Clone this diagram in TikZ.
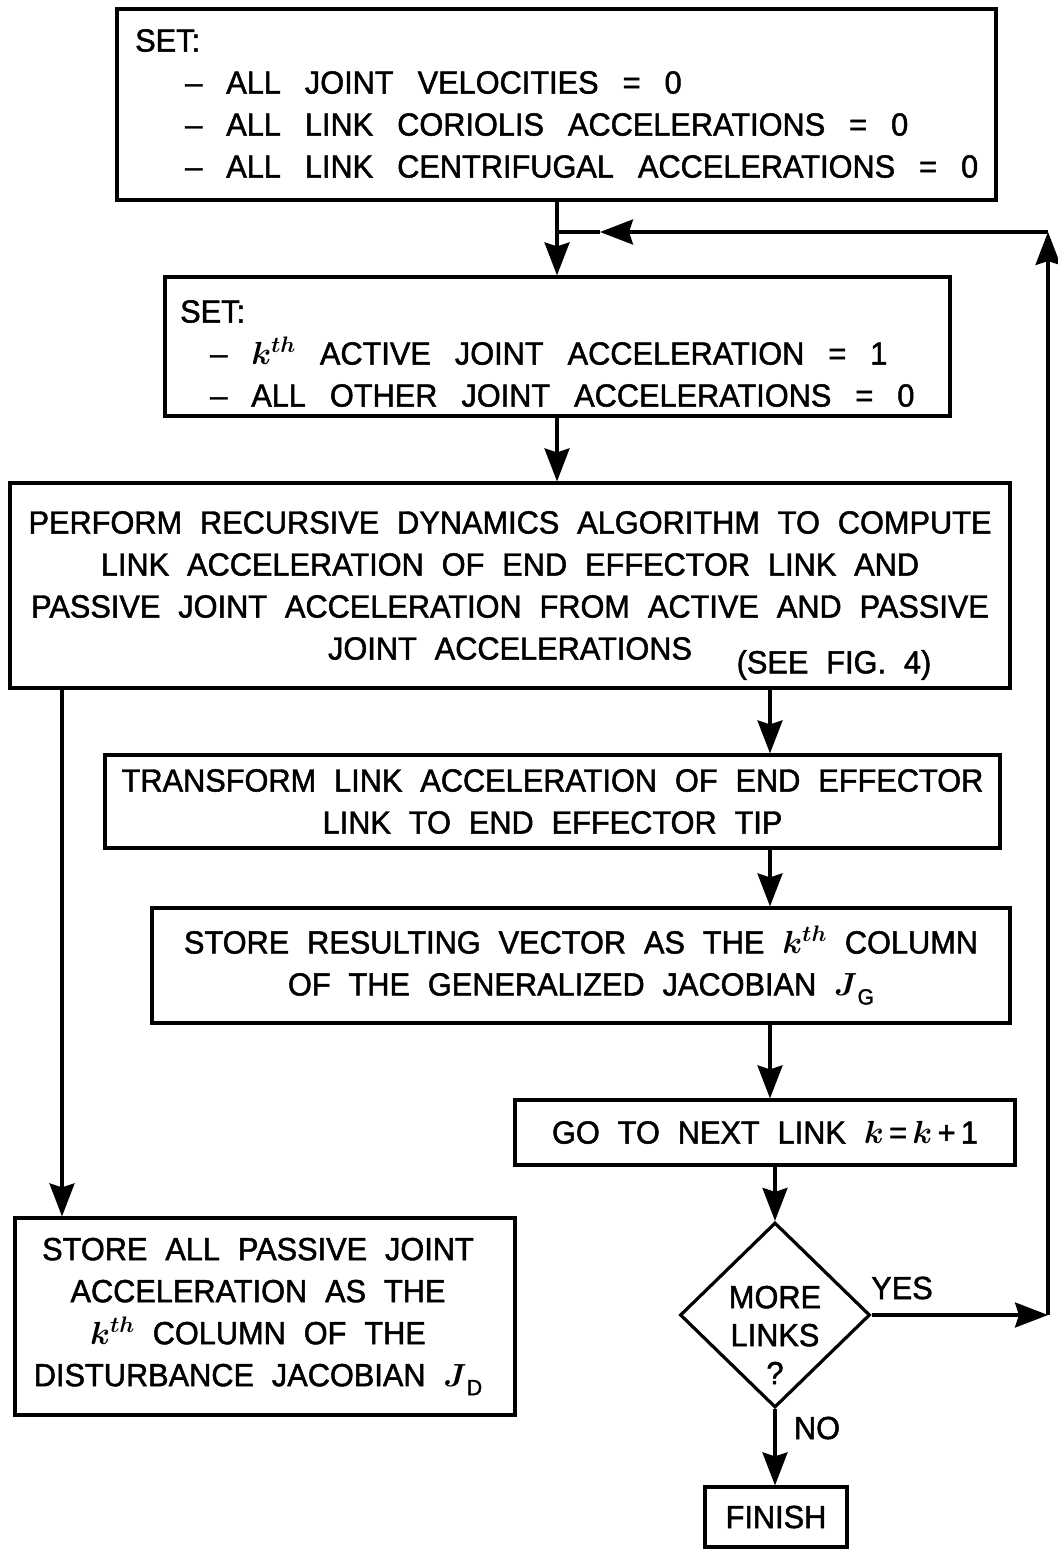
\RequirePackage{fix-cm}
\documentclass[tikz,border=0pt]{standalone}
\usepackage{fontspec}
\usepackage{bm}
\setmainfont{Liberation Sans}[FakeStretch=0.96, WordSpace=2.1, FakeBold=1.5]
\usetikzlibrary{shapes.geometric, arrows.meta}

\newcommand\bigtxt{\fontsize{32}{42}\selectfont}
\newcommand\widespaces{\spaceskip=24pt\relax}
\newcommand\kth{$\bm{k}^{\bm{th}}$}
\newcommand\subsf[1]{\raisebox{-9pt}{\fontsize{22}{22}\selectfont #1}}

\begin{document}
\begin{tikzpicture}[x=1pt, y=-1pt,
  box/.style={draw, line width=3.2pt, inner sep=0pt, font=\bigtxt},
  arr/.style={line width=3.2pt, -{Stealth[length=33pt, width=25pt, inset=4pt]}},
  conn/.style={line width=3.2pt},
  lbl/.style={inner sep=0pt, font=\bigtxt},
  setlist/.style={lbl, align=left, anchor=north west, font=\bigtxt\widespaces}]
\useasboundingbox (0,0) rectangle (1057,1549);

% initialisation
\node[box, minimum width=879, minimum height=191] (B1) at (556.5,104.5) {};
\node[setlist] (B1t) at (135,29)
  {SET:\\
   \hspace*{50pt}– ALL JOINT VELOCITIES = 0\\
   \hspace*{50pt}– ALL LINK CORIOLIS ACCELERATIONS = 0\\
   \hspace*{50pt}– ALL LINK CENTRIFUGAL ACCELERATIONS = 0};

% unit acceleration of the k-th joint
\node[box, minimum width=785, minimum height=139] (B2) at (557.5,346.5) {};
\node[setlist] (B2t) at (180,300)
  {SET:\\
   \hspace*{30pt}– \kth\ ACTIVE JOINT ACCELERATION = 1\\
   \hspace*{30pt}– ALL OTHER JOINT ACCELERATIONS = 0};

% recursive dynamics
\node[box, minimum width=1000, minimum height=205, align=center]
  (B3) at (510,585.5)
  {PERFORM RECURSIVE DYNAMICS ALGORITHM TO COMPUTE\\
   LINK ACCELERATION OF END EFFECTOR LINK AND\\
   PASSIVE JOINT ACCELERATION FROM ACTIVE AND PASSIVE\\
   JOINT ACCELERATIONS};
\node[lbl] (seefig) at (834,665) {(SEE FIG. 4)};

% transform to tip
\node[box, minimum width=895, minimum height=93, align=center]
  (B4) at (552.5,801.5)
  {TRANSFORM LINK ACCELERATION OF END EFFECTOR\\
   LINK TO END EFFECTOR TIP};

% generalized Jacobian column
\node[box, minimum width=858, minimum height=115, align=center]
  (B5) at (581,965.5)
  {STORE RESULTING VECTOR AS THE \kth\ COLUMN\\
   OF THE GENERALIZED JACOBIAN $\bm{J}$\subsf{G}};

% next link
\node[box, minimum width=500, minimum height=65, align=center]
  (B6) at (765,1132.5)
  {GO TO NEXT LINK $\bm{k}$\,=\,$\bm{k}$\,+\,1};

% disturbance Jacobian column
\node[box, minimum width=500, minimum height=197] (B7) at (265,1316.5) {};
\node[lbl, align=center] (B7t) at (258,1316.5)
  {STORE ALL PASSIVE JOINT\\
   ACCELERATION AS THE\\
   \kth\ COLUMN OF THE\\
   DISTURBANCE JACOBIAN $\bm{J}$\subsf{D}};

% decision
\node[draw, diamond, line width=3.2pt, inner sep=0pt,
      minimum width=190, minimum height=185] (D) at (775,1315) {};
\node[lbl, align=center, font=\fontsize{32}{38}\selectfont] (Dtext) at (775,1335)
  {MORE\\LINKS\\?};

% end
\node[box, minimum width=142, minimum height=60] (F) at (776,1517) {FINISH};

% connectors
\coordinate (loopJoin) at (557,232);
\coordinate (loopTip) at (600,232);
\coordinate (loopTop) at (1048,232);
\coordinate (yesEnd) at (1048,1315);
\coordinate (leftDrop) at (62,688);
\coordinate (rightDrop) at (770,688);

\draw[arr] (B1.south -| loopJoin) -- (B2.north -| loopJoin);
\draw[arr] (B2.south -| loopJoin) -- (B3.north -| loopJoin);
\draw[arr] (leftDrop) -- (leftDrop |- B7.north);
\draw[arr] (rightDrop) -- (rightDrop |- B4.north);
\draw[arr] (B4.south -| rightDrop) -- (B5.north -| rightDrop);
\draw[arr] (B5.south -| rightDrop) -- (B6.north -| rightDrop);
\draw[arr] (B6.south -| D.north) -- (D.north);
\draw[arr] (D.south) -- (F.north -| D.south);

\draw[arr] (D.east) -- (yesEnd);
\draw[arr] (yesEnd) -- (loopTop);
\draw[arr] (loopTop) -- (loopTip);
\draw[conn] (loopTip) -- (loopJoin);

\node[lbl] (yes) at (902,1288) {YES};
\node[lbl] (no) at (817,1428) {NO};
\end{tikzpicture}
\end{document}
